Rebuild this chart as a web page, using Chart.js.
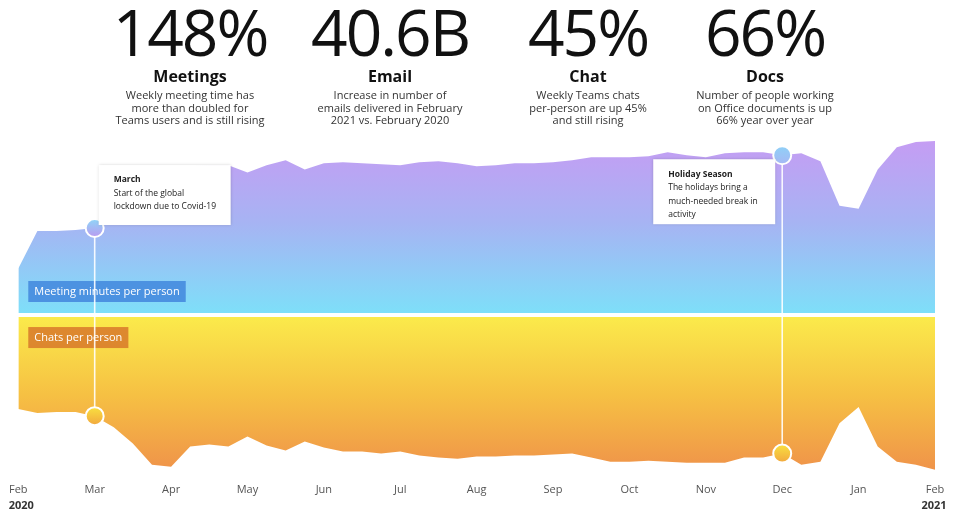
<!DOCTYPE html>
<html>
<head>
<meta charset="utf-8">
<script src="https://cdn.jsdelivr.net/npm/chart.js@4"></script>
<style>
  body { margin: 0; background: #fff; font-family: "Open Sans", "Noto Sans", sans-serif; }
  #wrap { position: relative; width: 958px; height: 518px; }
  #chart { position: absolute; left: 0; top: 0; }
  .stat { position: absolute; top: 0; width: 200px; margin-left: -100px; text-align: center; color: #111; }
  .stat .num { font-size: 64px; line-height: 64px; letter-spacing: -2px; height: 66px; }
  .stat .ttl { font-size: 16px; font-weight: 700; line-height: 20px; }
  .stat .txt { font-size: 11px; line-height: 12.5px; color: #333; margin-top: 3px; }
</style>
</head>
<body>
<div id="wrap">
  <canvas id="chart" width="958" height="518"></canvas>
</div>
<script>
// months from Feb 2020 (quarter-month steps)
let weeks = [];
for (let i = 0; i <= 48; i++) weeks.push(i / 4);

let monthLabels = ["Feb","Mar","Apr","May","Jun","Jul","Aug","Sep","Oct","Nov","Dec","Jan","Feb"];
let yearLabels = ["2020", "2021"];

// relative index
let meetings = [44,81,81,82,84,116,139,144,145,145,146,146,139,146,151,142,148,149,148,147,146,149,150,148,145,146,148,148,149,151,154,154,154,155,159,156,154,158,159,159,156,158,150,106,103,142,164,169,170];
let chats = [91,95,94,94,98,109,125,146,148,128,126,128,118,127,132,123,129,133,133,135,133,137,139,140,138,138,137,137,136,135,139,143,143,142,143,144,144,144,139,139,135,146,143,105,89,128,143,146,151];

let statValues = ["148%", "40.6B", "45%", "66%"];
let statTitles = ["Meetings", "Email", "Chat", "Docs"];
let statTexts = [
  ["Weekly meeting time has", "more than doubled for", "Teams users and is still rising"],
  ["Increase in number of", "emails delivered in February", "2021 vs. February 2020"],
  ["Weekly Teams chats", "per-person are up 45%", "and still rising"],
  ["Number of people working", "on Office documents is up", "66% year over year"]
];

let eventMonths = [1, 10];
let eventTitles = ["March", "Holiday Season"];
let eventTexts = [
  ["Start of the global", "lockdown due to Covid-19"],
  ["The holidays bring a", "much-needed break in", "activity"]
];

// header stats
let statCenters = [190, 390, 588, 765];
statValues.forEach((v, i) => {
  let d = document.createElement("div");
  d.className = "stat";
  d.style.left = statCenters[i] + "px";
  d.innerHTML = `<div class="num">${v}</div><div class="ttl">${statTitles[i]}</div><div class="txt">${statTexts[i].join("<br>")}</div>`;
  document.getElementById("wrap").appendChild(d);
});

function topGradient(context){
  let chart = context.chart;
  let ca = chart.chartArea;
  if(!ca) return "#a0b0f0";
  let g = chart.ctx.createLinearGradient(0, ca.top, 0, chart.scales.y.getPixelForValue(0));
  g.addColorStop(0, "#c79bf3");
  g.addColorStop(0.5, "#a6b4f3");
  g.addColorStop(1, "#7edff9");
  return g;
}

function bottomGradient(context){
  let chart = context.chart;
  let ca = chart.chartArea;
  if(!ca) return "#f5c040";
  let g = chart.ctx.createLinearGradient(0, chart.scales.y2.getPixelForValue(0), 0, ca.bottom);
  g.addColorStop(0, "#fbea4b");
  g.addColorStop(0.5, "#f6c043");
  g.addColorStop(1, "#ef914a");
  return g;
}

function tag(ctx, text, x, y, bg){
  ctx.font = "11px 'Open Sans'";
  let w = ctx.measureText(text).width + 12;
  ctx.fillStyle = bg;
  ctx.fillRect(x, y, w, 21);
  ctx.fillStyle = "#ffffff";
  ctx.textBaseline = "middle";
  ctx.textAlign = "left";
  ctx.fillText(text, x + 6, y + 11);
}

function marker(ctx, x, y, c1, c2){
  let g = ctx.createLinearGradient(0, y - 9, 0, y + 9);
  g.addColorStop(0, c1);
  g.addColorStop(1, c2);
  ctx.beginPath();
  ctx.arc(x, y, 9, 0, Math.PI * 2);
  ctx.fillStyle = g;
  ctx.fill();
  ctx.lineWidth = 2;
  ctx.strokeStyle = "#ffffff";
  ctx.stroke();
}

let overlays = {
  id: "overlays",
  afterDatasetsDraw(chart){
    let {ctx, chartArea, scales} = chart;
    let xs = scales.x, yt = scales.y, yb = scales.y2;
    ctx.save();

    // series tags
    tag(ctx, chart.data.datasets[0].label, chartArea.left + 10, yt.getPixelForValue(0) - 32, "rgba(70,140,222,0.92)");
    tag(ctx, chart.data.datasets[1].label, chartArea.left + 10, yb.getPixelForValue(0) + 10, "rgba(218,128,44,0.92)");

    eventMonths.forEach((m, i) => {
      let idx = weeks.indexOf(m);
      let px = xs.getPixelForValue(m);
      let py1 = yt.getPixelForValue(meetings[idx]);
      let py2 = yb.getPixelForValue(chats[idx]);

      ctx.strokeStyle = "rgba(255,255,255,0.9)";
      ctx.lineWidth = 1.6;
      ctx.beginPath();
      ctx.moveTo(px, py1);
      ctx.lineTo(px, py2);
      ctx.stroke();

      if(i === 0){
        marker(ctx, px, py1, "#8fd6f8", "#b99bf0");
      } else {
        marker(ctx, px, py1, "#8fd0f7", "#a6b8f4");
      }
      marker(ctx, px, py2, "#f9e040", "#f2a83e");

      // note box
      let bw = i === 0 ? 132 : 122;
      let bh = i === 0 ? 60 : 65;
      let bx = i === 0 ? px + 4 : px - 7 - bw;
      let by = i === 0 ? py1 - 63 : py1 + 4;
      ctx.save();
      ctx.shadowColor = "rgba(0,0,0,0.25)";
      ctx.shadowBlur = 3;
      ctx.fillStyle = "#ffffff";
      ctx.fillRect(bx, by, bw, bh);
      ctx.restore();

      ctx.fillStyle = "#222";
      ctx.textAlign = "left";
      ctx.textBaseline = "middle";
      ctx.font = "bold 8.5px 'Open Sans'";
      ctx.fillText(eventTitles[i], bx + 15, by + 15);
      ctx.font = "8.5px 'Open Sans'";
      eventTexts[i].forEach((t, j) => {
        ctx.fillText(t, bx + 15, by + 15 + 13.5 * (j + 1));
      });
    });

    // years under first and last month
    ctx.fillStyle = "#333";
    ctx.font = "bold 11px 'Open Sans'";
    ctx.textAlign = "center";
    ctx.textBaseline = "middle";
    ctx.fillText(yearLabels[0], xs.getPixelForValue(0) + 3, 506);
    ctx.fillText(yearLabels[1], xs.getPixelForValue(12) - 1, 506);

    ctx.restore();
  }
};

let chart = new Chart(document.getElementById("chart"), {
  type: "line",
  data: {
    datasets: [
      {
        label: "Meeting minutes per person",
        data: meetings.map((v, i) => ({x: weeks[i], y: v})),
        yAxisID: "y",
        fill: "origin",
        backgroundColor: topGradient,
        borderWidth: 0,
        pointRadius: 0,
        tension: 0
      },
      {
        label: "Chats per person",
        data: chats.map((v, i) => ({x: weeks[i], y: v})),
        yAxisID: "y2",
        fill: "origin",
        backgroundColor: bottomGradient,
        borderWidth: 0,
        pointRadius: 0,
        tension: 0
      }
    ]
  },
  options: {
    responsive: false,
    animation: false,
    layout: { padding: { top: 135, left: 18, right: 23, bottom: 13 } },
    plugins: { legend: { display: false }, tooltip: { enabled: false } },
    scales: {
      x: {
        type: "linear",
        min: 0,
        max: 12,
        grid: { display: false, drawTicks: false },
        border: { display: false },
        ticks: {
          stepSize: 1,
          autoSkip: false,
          maxRotation: 0,
          padding: 9,
          color: "#555",
          font: { family: "'Open Sans'", size: 11 },
          callback: (v) => monthLabels[v]
        }
      },
      y: {
        position: "left",
        stack: "main",
        stackWeight: 178,
        weight: 1,
        min: -2,
        max: 176,
        grid: { display: false, drawTicks: false },
        border: { display: false },
        ticks: { display: false }
      },
      y2: {
        position: "left",
        stack: "main",
        stackWeight: 157,
        weight: 0,
        reverse: true,
        min: -2,
        max: 155,
        grid: { display: false, drawTicks: false },
        border: { display: false },
        ticks: { display: false }
      }
    }
  },
  plugins: [overlays]
});
</script>
</body>
</html>
